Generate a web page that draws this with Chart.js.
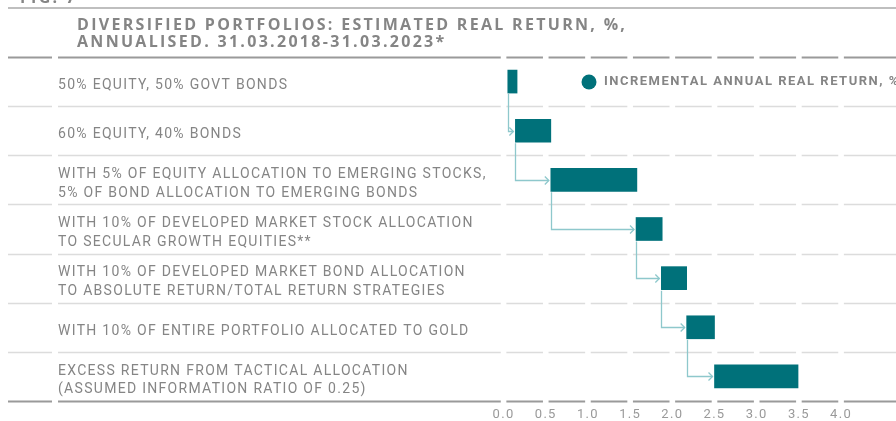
<!DOCTYPE html>
<html>
<head>
<meta charset="utf-8">
<script src="https://cdn.jsdelivr.net/npm/chart.js@4.4.1/dist/chart.umd.min.js"></script>
<style>
  html, body { margin: 0; padding: 0; background: #fff; }
  #wrap { width: 896px; height: 421px; position: relative; }
</style>
</head>
<body>
<div id="wrap"><canvas id="chart"></canvas></div>
<script>
// data
const categories = [
    ["50% EQUITY, 50% GOVT BONDS"],
    ["60% EQUITY, 40% BONDS"],
    ["WITH 5% OF EQUITY ALLOCATION TO EMERGING STOCKS,", "5% OF BOND ALLOCATION TO EMERGING BONDS"],
    ["WITH 10% OF DEVELOPED MARKET STOCK ALLOCATION", "TO SECULAR GROWTH EQUITIES**"],
    ["WITH 10% OF DEVELOPED MARKET BOND ALLOCATION", "TO ABSOLUTE RETURN/TOTAL RETURN STRATEGIES"],
    ["WITH 10% OF ENTIRE PORTFOLIO ALLOCATED TO GOLD"],
    ["EXCESS RETURN FROM TACTICAL ALLOCATION", "(ASSUMED INFORMATION RATIO OF 0.25)"],
];
const barStart = [0.05, 0.14, 0.56, 1.57, 1.87, 2.17, 2.50];
const barEnd = [0.16, 0.56, 1.58, 1.88, 2.17, 2.50, 3.49];
const tickValues = [0, 0.5, 1.0, 1.5, 2.0, 2.5, 3.0, 3.5, 4.0];
const titleLines = ["DIVERSIFIED PORTFOLIOS: ESTIMATED REAL RETURN, %,", "ANNUALISED. 31.03.2018-31.03.2023*"];
const legendLabel = "INCREMENTAL ANNUAL REAL RETURN, %";
const figLabel = "FIG. 7";

const TEAL = "#00717a";
const ARROW = "#8ec8cc";
const TEXT = "#858585";
const FONT = "Roboto, 'Liberation Sans', sans-serif";
const TITLE_FONT = "'Open Sans', Roboto, sans-serif";

const framePlugin = {
    id: "frame",
    beforeDraw(chart) {
        const ctx = chart.ctx;
        ctx.save();
        ctx.fillStyle = "#fff";
        ctx.fillRect(0, 0, chart.width, chart.height);
        ctx.restore();
        ctx.letterSpacing = "1.3px";
    },
    beforeDatasetsDraw(chart) {
        const ctx = chart.ctx;
        const y = chart.scales.y;
        const x = chart.scales.x;
        const area = chart.chartArea;
        const bounds = [area.top];
        for (let i = 0; i < categories.length - 1; i++) {
            bounds.push((y.getPixelForValue(i) + y.getPixelForValue(i + 1)) / 2);
        }
        bounds.push(area.bottom);

        ctx.save();
        // top rule above the title
        ctx.strokeStyle = "#aaaaaa";
        ctx.lineWidth = 1.5;
        ctx.beginPath();
        ctx.moveTo(8, 8);
        ctx.lineTo(chart.width, 8);
        ctx.stroke();

        bounds.forEach((by, i) => {
            const edge = i === 0 || i === bounds.length - 1;
            const yy = Math.round(by) + 0.5;
            ctx.strokeStyle = edge ? "#9a9a9a" : "#dcdcdc";
            ctx.lineWidth = edge ? 2 : 1.5;
            ctx.beginPath();
            ctx.moveTo(8, yy);
            ctx.lineTo(52, yy);
            ctx.moveTo(58, yy);
            ctx.lineTo(chart.width, yy);
            ctx.stroke();
            // small breaks at each tick position
            ctx.fillStyle = "#fff";
            tickValues.forEach(v => {
                const px = x.getPixelForValue(v);
                ctx.fillRect(px - 2.8, yy - 2, 5.6, 4);
            });
        });
        ctx.restore();
    },
    afterDatasetsDraw(chart) {
        const ctx = chart.ctx;
        const bars = chart.getDatasetMeta(0).data;
        ctx.save();
        ctx.strokeStyle = ARROW;
        ctx.lineWidth = 1.3;
        for (let i = 0; i < bars.length - 1; i++) {
            const a = bars[i], b = bars[i + 1];
            const ax = Math.round(Math.min(a.x, a.base)) + 0.5;
            const bx = Math.min(b.x, b.base);
            const top = a.y + a.height / 2 + 1;
            const yy = Math.round(b.y) + 0.5;
            const tip = bx - 2;
            ctx.beginPath();
            ctx.moveTo(ax, top);
            ctx.lineTo(ax, yy);
            ctx.lineTo(tip, yy);
            ctx.stroke();
            ctx.beginPath();
            ctx.moveTo(tip - 4, yy - 4);
            ctx.lineTo(tip, yy);
            ctx.lineTo(tip - 4, yy + 4);
            ctx.stroke();
        }
        ctx.restore();
    },
    afterDraw(chart) {
        const ctx = chart.ctx;
        ctx.save();
        ctx.fillStyle = TEXT;
        ctx.textBaseline = "alphabetic";
        ctx.textAlign = "left";
        ctx.font = "bold 16px " + TITLE_FONT;
        ctx.letterSpacing = "2.3px";
        ctx.fillText(figLabel, 20, 3);
        ctx.fillText(titleLines[0], 77, 29.5);
        ctx.fillText(titleLines[1], 77, 47);

        // legend
        const ly = chart.scales.y.getPixelForValue(0) + 0.5;
        ctx.fillStyle = TEAL;
        ctx.beginPath();
        ctx.arc(589, ly, 7.5, 0, Math.PI * 2);
        ctx.fill();
        ctx.fillStyle = TEXT;
        ctx.textBaseline = "middle";
        ctx.font = "bold 13px " + FONT;
        ctx.letterSpacing = "1.5px";
        ctx.fillText(legendLabel, 604, ly);
        ctx.restore();
    }
};

const ctx = document.getElementById("chart").getContext("2d");
new Chart(ctx, {
    type: "bar",
    data: {
        labels: categories,
        datasets: [{
            label: legendLabel,
            data: barStart.map((s, i) => [s, barEnd[i]]),
            backgroundColor: TEAL,
            borderWidth: 0,
            barThickness: 23,
        }],
    },
    options: {
        indexAxis: "y",
        responsive: true,
        maintainAspectRatio: false,
        animation: false,
        layout: { padding: { left: 58, top: 57, right: 0, bottom: 0 } },
        plugins: {
            legend: { display: false },
            tooltip: { enabled: false },
            title: { display: false },
        },
        scales: {
            x: {
                min: -0.066,
                max: 4.651,
                afterBuildTicks: scale => {
                    scale.ticks = tickValues.map(v => ({ value: v }));
                },
                afterFit: scale => { scale.height = 20; },
                grid: { display: false, drawTicks: false },
                border: { display: false },
                ticks: {
                    padding: 6,
                    color: "#9a9a9a",
                    font: { family: FONT, size: 13 },
                    maxRotation: 0,
                    autoSkip: false,
                    callback: v => Number(v).toFixed(1),
                },
            },
            y: {
                afterFit: scale => { scale.width = 440; },
                grid: { display: false, drawTicks: false },
                border: { display: false },
                ticks: {
                    crossAlign: "far",
                    labelOffset: 4,
                    color: TEXT,
                    font: { family: FONT, size: 14, lineHeight: 1.32 },
                },
            },
        },
    },
    plugins: [framePlugin],
});
</script>
</body>
</html>
